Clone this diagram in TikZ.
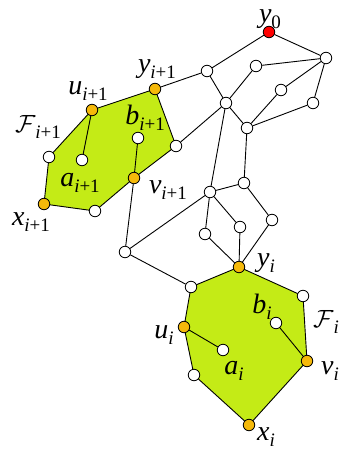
\documentclass[tikz,border=0pt]{standalone}
\usepackage{fontspec}
\setmainfont{Liberation Serif}
\newcommand{\lab}[2]{{\fontsize{28}{30}\selectfont\itshape #1}\raisebox{-6pt}{\fontsize{19}{19}\selectfont #2}}
\newcommand{\labF}[1]{{\fontsize{27}{29}\selectfont$\mathcal{F}$}\raisebox{-6pt}{\fontsize{19}{19}\selectfont #1}}
\begin{document}
\begin{tikzpicture}[x=1pt,y=-1pt,
  wn/.style={circle,draw=black,fill=white,line width=0.8pt,minimum size=11.5pt,inner sep=0pt},
  rn/.style={wn,fill=red},
  ed/.style={line width=0.9pt},
  lb/.style={inner sep=0pt}]
\useasboundingbox (0,0) rectangle (341,454);
\definecolor{fgreen}{RGB}{196,235,22}
\definecolor{forange}{RGB}{245,185,10}
\tikzset{on/.style={wn,fill=forange}}
% faces
\coordinate (Pu1) at (92,110);
\coordinate (Py1) at (155,89);
\coordinate (Pr1) at (176,146);
\coordinate (Pv1) at (134,178);
\coordinate (Pb1w) at (95,211);
\coordinate (Px1) at (44,204);
\coordinate (Pl1) at (49,157);
\fill[fgreen] (Pu1)--(Py1)--(Pr1)--(Pv1)--(Pb1w)--(Px1)--(Pl1)--cycle;
\draw[ed] (Pu1)--(Py1)--(Pr1)--(Pv1)--(Pb1w)--(Px1)--(Pl1)--cycle;
\coordinate (Pyi) at (239,267);
\coordinate (Pri) at (303,296);
\coordinate (Pvi) at (307,361);
\coordinate (Pxi) at (249,425);
\coordinate (Pbi) at (194,375);
\coordinate (Pui) at (184,327);
\coordinate (Pli) at (191,287);
\fill[fgreen] (Pyi)--(Pri)--(Pvi)--(Pxi)--(Pbi)--(Pui)--(Pli)--cycle;
\draw[ed] (Pyi)--(Pri)--(Pvi)--(Pxi)--(Pbi)--(Pui)--(Pli)--cycle;
% nodes
\node[on] (u1) at (Pu1) {};
\node[on] (y1) at (Py1) {};
\node[wn] (r1) at (Pr1) {};
\node[on] (v1) at (Pv1) {};
\node[wn] (bw1) at (Pb1w) {};
\node[on] (x1) at (Px1) {};
\node[wn] (l1) at (Pl1) {};
\node[wn] (a1) at (82,160) {};
\node[wn] (b1) at (138,138) {};
\node[on] (yi) at (Pyi) {};
\node[wn] (ri) at (Pri) {};
\node[on] (vi) at (Pvi) {};
\node[on] (xi) at (Pxi) {};
\node[wn] (bwi) at (Pbi) {};
\node[on] (ui) at (Pui) {};
\node[wn] (li) at (Pli) {};
\node[wn] (ai) at (223,350) {};
\node[wn] (bi) at (276,323) {};
\node[rn] (y0) at (269,32) {};
\node[wn] (tr) at (326,58) {};
\node[wn] (n1) at (207,71) {};
\node[wn] (n2) at (256,66) {};
\node[wn] (n3) at (281,90) {};
\node[wn] (n4) at (313,103) {};
\node[wn] (n5) at (226,103) {};
\node[wn] (n6) at (247,128) {};
\node[wn] (n7) at (244,183) {};
\node[wn] (n8) at (210,192) {};
\node[wn] (n9) at (272,220) {};
\node[wn] (n10) at (240,227) {};
\node[wn] (n11) at (205,234) {};
\node[wn] (n12) at (125,252) {};
% edges
\foreach \a/\b in {u1/a1,v1/b1,ui/ai,vi/bi,y0/n1,y0/tr,n2/tr,n1/y1,n1/n5,n2/n5,n5/r1,n5/n6,n6/n3,n3/tr,tr/n4,n4/n6,n5/n8,n6/n7,n7/n8,n7/n9,n8/n11,n8/n10,n8/n12,v1/n12,n12/li,n11/yi,n10/yi,n9/yi}
  \draw[ed] (\a)--(\b);
% labels
\node[lb] (Ly0) at (270,19) {\lab{y}{0}};
\node[lb] (Ly1) at (157,69) {\lab{y}{\textit{i}+1}};
\node[lb] (Lu1) at (88,91) {\lab{u}{\textit{i}+1}};
\node[lb] (LF1) at (38,127) {\labF{\textit{i}+1}};
\node[lb] (Lb1) at (145,118) {\lab{b}{\textit{i}+1}};
\node[lb] (La1) at (80,183) {\lab{a}{\textit{i}+1}};
\node[lb] (Lv1) at (168,190) {\lab{v}{\textit{i}+1}};
\node[lb] (Lx1) at (31,222) {\lab{x}{\textit{i}+1}};
\node[lb] (Lyi) at (266,263) {\lab{y}{\textit{i}}};
\node[lb] (Lbi) at (262,307) {\lab{b}{\textit{i}}};
\node[lb] (LFi) at (326,322) {\labF{\textit{i}}};
\node[lb] (Lui) at (164,335) {\lab{u}{\textit{i}}};
\node[lb] (Lai) at (234,371) {\lab{a}{\textit{i}}};
\node[lb] (Lvi) at (330,371) {\lab{v}{\textit{i}}};
\node[lb] (Lxi) at (266,437) {\lab{x}{\textit{i}}};
\end{tikzpicture}
\end{document}
